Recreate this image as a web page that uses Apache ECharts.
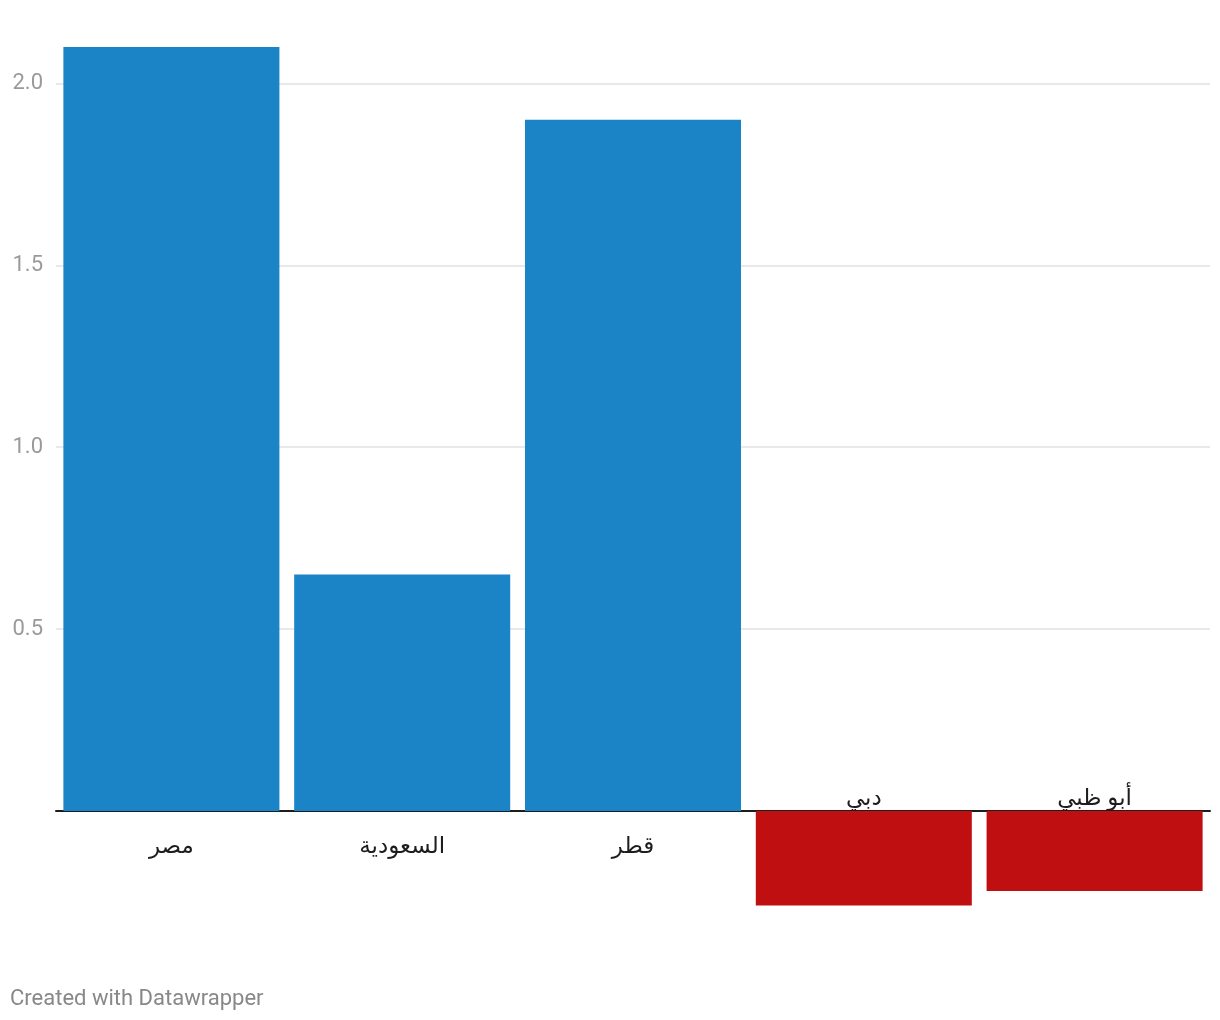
<!DOCTYPE html>
<html>
<head>
<meta charset="utf-8">
<script src="https://cdn.jsdelivr.net/npm/echarts@6/dist/echarts.min.js"></script>
<style>
html,body{margin:0;padding:0;background:#fff;}
#chart{width:1220px;height:1020px;}
</style>
</head>
<body>
<div id="chart"></div>
<script>
const categories = ['مصر', 'السعودية', 'قطر', 'دبي', 'أبو ظبي'];
const values = [2.1, 0.65, 1.9, -0.26, -0.22];
const yTicks = [0.5, 1.0, 1.5, 2.0];

const POS = '#1b84c7';
const NEG = '#c00f10';
const FONT = 'Roboto, "DejaVu Sans", sans-serif';

const barData = values.map(v => ({
  value: v,
  itemStyle: { color: v >= 0 ? POS : NEG },
  label: v >= 0 ? { position: 'bottom', distance: 25 } : { position: 'top', distance: 0 }
}));

const chart = echarts.init(document.getElementById('chart'), null, { renderer: 'canvas' });
chart.setOption({
  animation: false,
  backgroundColor: '#ffffff',
  grid: { left: 56, right: 10, top: 10.6, bottom: 27.1, containLabel: false },
  xAxis: {
    type: 'category',
    data: categories,
    axisLine: { show: true, onZero: true, lineStyle: { color: '#1d1d1d', width: 2 } },
    axisTick: { show: false },
    axisLabel: { show: false },
    splitLine: { show: false }
  },
  yAxis: {
    type: 'value',
    min: -0.5,
    max: 2.2,
    interval: 0.5,
    axisLine: { show: false },
    axisTick: { show: false },
    axisLabel: {
      color: '#9a9a9a',
      fontSize: 22,
      fontFamily: FONT,
      margin: 13,
      formatter: function (v) {
        const hit = yTicks.find(t => Math.abs(t - v) < 1e-9);
        return hit !== undefined ? hit.toFixed(1) : '';
      }
    },
    splitLine: {
      show: true,
      lineStyle: {
        color: ['rgba(0,0,0,0)', 'rgba(0,0,0,0)', '#e2e2e2', '#e2e2e2', '#e2e2e2', '#e2e2e2', 'rgba(0,0,0,0)'],
        width: 1.5
      }
    }
  },
  series: [{
    type: 'bar',
    data: barData,
    barCategoryGap: '6.4%',
    label: {
      show: true,
      formatter: '{b}',
      color: '#1d1d1d',
      fontSize: 23,
      fontFamily: FONT
    }
  }],
  graphic: [{
    type: 'text',
    left: 10,
    top: 988,
    style: {
      text: 'Created with Datawrapper',
      fill: '#888888',
      fontSize: 22,
      fontFamily: FONT
    }
  }]
});
</script>
</body>
</html>
